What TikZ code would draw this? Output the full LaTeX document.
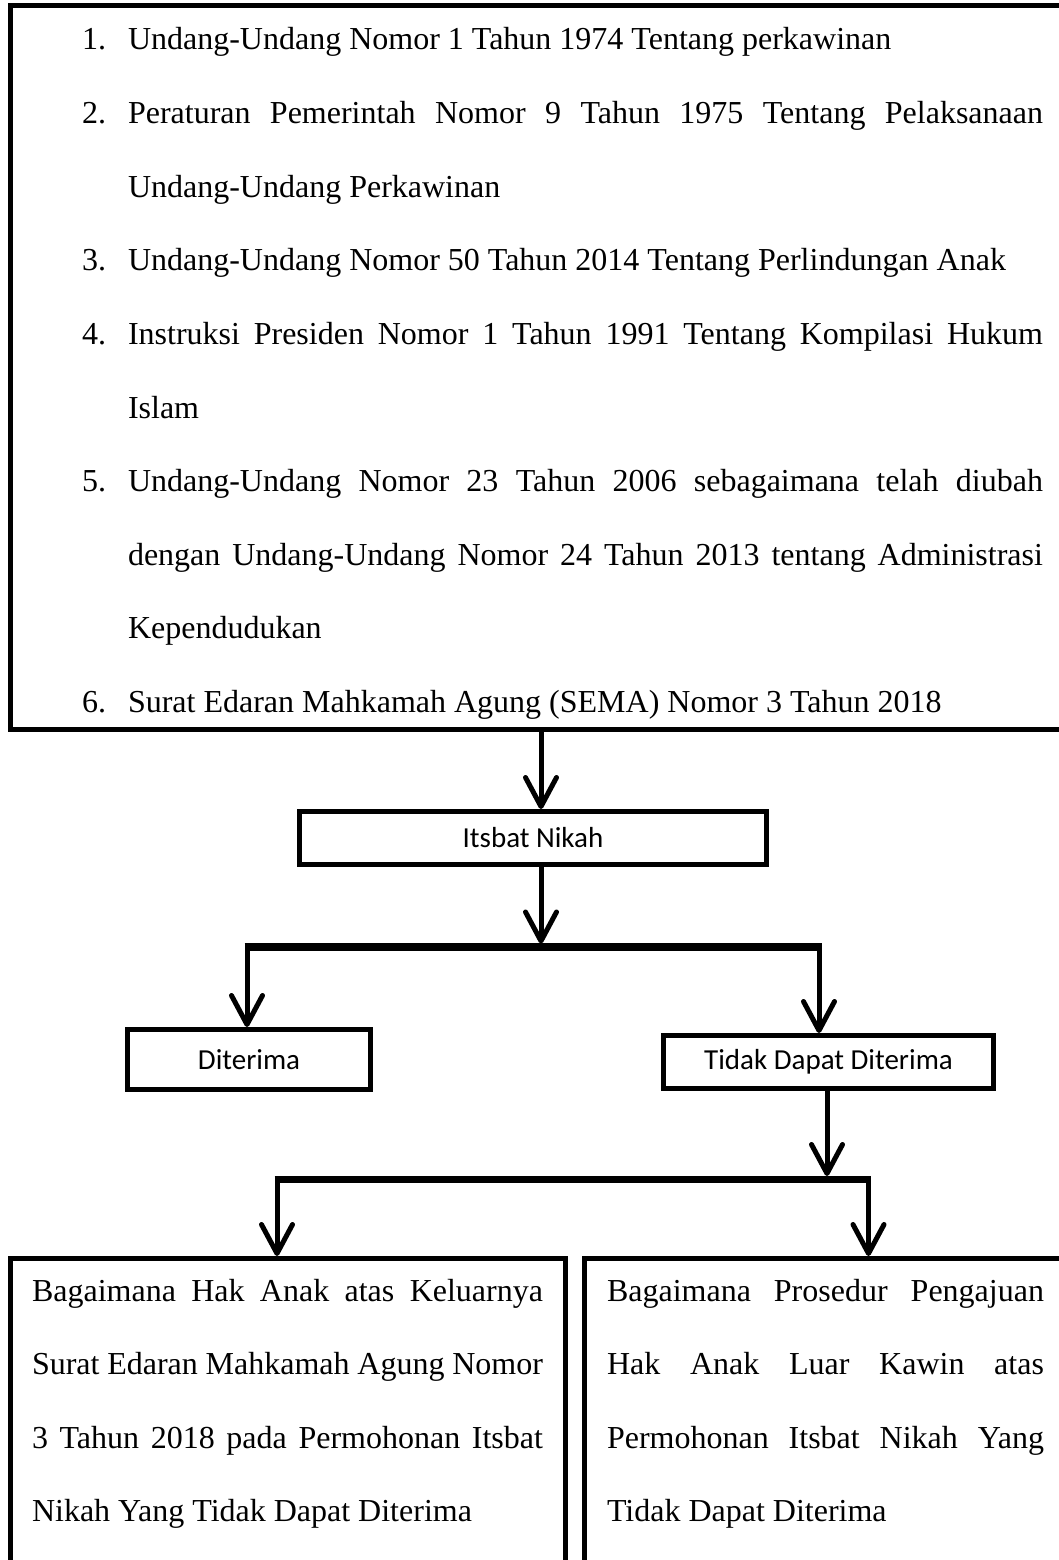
\documentclass[tikz,border=0pt]{standalone}
\usepackage{fontspec}
\setmainfont{Liberation Serif}
\newfontfamily\boxsans{Carlito}
\usetikzlibrary{arrows.meta}
\tikzset{
  frame/.style={draw, line width=5pt, inner sep=0pt, outer sep=2.5pt, rectangle},
  conn/.style={line width=5pt, -{Straight Barb[length=29pt,width=31pt,round]}},
  busbar/.style={line width=7.5pt},
  body/.style={font=\fontsize{32}{38}\selectfont, anchor=base west, inner sep=0pt, outer sep=0pt},
  sanslabel/.style={font=\boxsans\fontsize{29}{35}\selectfont},
}
\begin{document}
\begin{tikzpicture}[x=1pt,y=-1pt]
\clip (0,0) rectangle (1059,1560);
\fill[white] (0,0) rectangle (1059,1560);

% boxes
\node[frame, minimum width=1065pt, minimum height=723.5pt] (hukum) at (542.5,367.75) {};
\node[frame, sanslabel, minimum width=467pt, minimum height=53pt] (itsbat) at (533,838) {Itsbat Nikah};
\node[frame, sanslabel, minimum width=243pt, minimum height=60pt] (diterima) at (249,1059.5) {Diterima};
\node[frame, sanslabel, minimum width=330pt, minimum height=53pt] (tidak) at (828.5,1062) {Tidak Dapat Diterima};
\node[frame, minimum width=555pt, minimum height=341.5pt] (kiri) at (288,1429.25) {};
\node[frame, minimum width=490.5pt, minimum height=341.5pt] (kanan) at (829.75,1429.25) {};

% list in top box
\node[body] (n1) at (82,50) {1.};
\node[body] (t1) at (128,50) {Undang-Undang Nomor 1 Tahun 1974 Tentang perkawinan};
\node[body] (n2) at (82,123.6) {2.};
\node[body] (t2a) at (128,123.6) {\makebox[915pt][s]{Peraturan Pemerintah Nomor 9 Tahun 1975 Tentang Pelaksanaan}};
\node[body] (t2b) at (128,197.2) {Undang-Undang Perkawinan};
\node[body] (n3) at (82,270.8) {3.};
\node[body] (t3) at (128,270.8) {Undang-Undang Nomor 50 Tahun 2014 Tentang Perlindungan Anak};
\node[body] (n4) at (82,344.4) {4.};
\node[body] (t4a) at (128,344.4) {\makebox[915pt][s]{Instruksi Presiden Nomor 1 Tahun 1991 Tentang Kompilasi Hukum}};
\node[body] (t4b) at (128,418) {Islam};
\node[body] (n5) at (82,491.6) {5.};
\node[body] (t5a) at (128,491.6) {\makebox[915pt][s]{Undang-Undang Nomor 23 Tahun 2006 sebagaimana telah diubah}};
\node[body] (t5b) at (128,565.2) {\makebox[915pt][s]{dengan Undang-Undang Nomor 24 Tahun 2013 tentang Administrasi}};
\node[body] (t5c) at (128,638.8) {Kependudukan};
\node[body] (n6) at (82,712.4) {6.};
\node[body] (t6) at (128,712.4) {Surat Edaran Mahkamah Agung (SEMA) Nomor 3 Tahun 2018};

% bottom-left text
\node[body] (b1) at (32,1301) {\makebox[511pt][s]{Bagaimana Hak Anak atas Keluarnya}};
\node[body] (b2) at (32,1374.6) {\makebox[511pt][s]{Surat Edaran Mahkamah Agung Nomor}};
\node[body] (b3) at (32,1448.2) {\makebox[511pt][s]{3 Tahun 2018 pada Permohonan Itsbat}};
\node[body] (b4) at (32,1521.8) {Nikah Yang Tidak Dapat Diterima};

% bottom-right text
\node[body] (r1) at (607,1301) {\makebox[437pt][s]{Bagaimana Prosedur Pengajuan}};
\node[body] (r2) at (607,1374.6) {\makebox[437pt][s]{Hak Anak Luar Kawin atas}};
\node[body] (r3) at (607,1448.2) {\makebox[437pt][s]{Permohonan Itsbat Nikah Yang}};
\node[body] (r4) at (607,1521.8) {Tidak Dapat Diterima};

% connectors
\coordinate (a1) at (541,0);
\draw[conn] (hukum.south -| a1) -- (itsbat.north -| a1);
\coordinate (j1) at (541,943.5);
\draw[conn] (itsbat.south -| j1) -- (j1);
\coordinate (b1L) at (244.5,947);
\coordinate (b1R) at (821.5,947);
\draw[busbar] (b1L) -- (b1R);
\coordinate (v1L) at (247,944);
\coordinate (v1R) at (819,944);
\draw[conn] (v1L) -- (diterima.north -| v1L);
\draw[conn] (v1R) -- (tidak.north -| v1R);
\coordinate (j2) at (827,1176);
\draw[conn] (tidak.south -| j2) -- (j2);
\coordinate (b2L) at (274.5,1179.5);
\coordinate (b2R) at (871,1179.5);
\draw[busbar] (b2L) -- (b2R);
\coordinate (v2L) at (277,1177);
\coordinate (v2R) at (868.5,1177);
\draw[conn] (v2L) -- (kiri.north -| v2L);
\draw[conn] (v2R) -- (kanan.north -| v2R);
\end{tikzpicture}
\end{document}
